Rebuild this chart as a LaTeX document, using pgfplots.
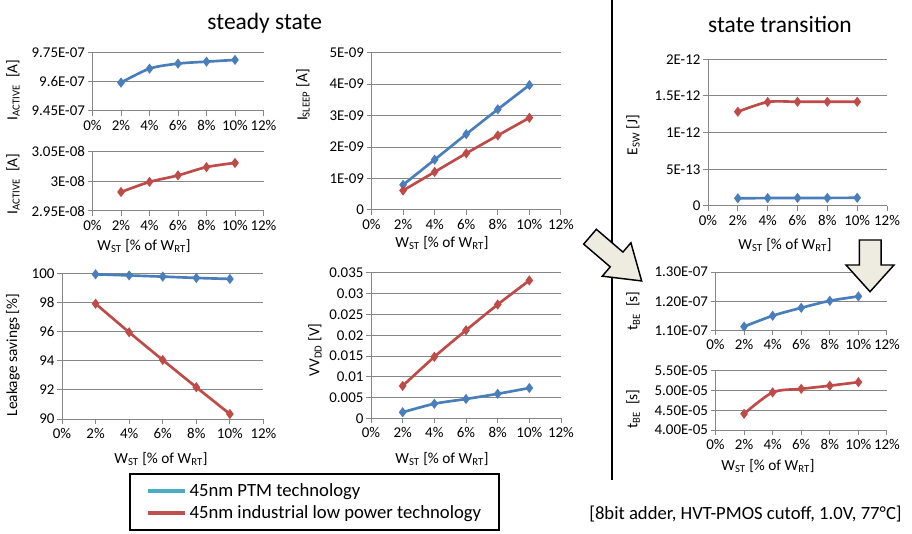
\documentclass[border=0pt]{standalone}
\usepackage{fontspec}
\setmainfont{Carlito}
\usepackage{pgfplots}
\pgfplotsset{compat=1.18}
\definecolor{ptm}{HTML}{4A7EBB}
\definecolor{ind}{HTML}{BE4B48}
\definecolor{legptm}{HTML}{4BACC6}
\definecolor{legind}{HTML}{C0504D}
\definecolor{axgray}{HTML}{868686}
\definecolor{arrowfill}{HTML}{EEECE1}
\newcommand\tickfont{\fontsize{11.2}{13}\selectfont}
\newcommand\labfont{\fontsize{11.5}{13}\selectfont}
\newcommand\wst{W\textsubscript{ST} [\% of W\textsubscript{RT}]}
\pgfplotsset{
  panel/.style={
    scale only axis, clip=false, anchor=south west,
    axis lines=left, axis line style={-, draw=axgray, line width=0.75pt},
    xmin=0, xmax=12, xtick={0,2,4,6,8,10,12},
    xticklabels={0\%,2\%,4\%,6\%,8\%,10\%,12\%},
    scaled y ticks=false, scaled x ticks=false,
    ymajorgrids=true, grid style={draw=axgray, line width=0.75pt},
    tick align=outside, major tick length=3.5pt,
    tick style={draw=axgray, line width=0.75pt},
    ticklabel style={font=\tickfont},
    yticklabel style={inner sep=2pt},
    xticklabel style={inner sep=3pt},
  },
  ptmline/.style={color=ptm, line width=2pt, smooth, mark=diamond*, mark size=2.2pt, mark options={solid}},
  indline/.style={color=ind, line width=2pt, smooth, mark=diamond*, mark size=2.2pt, mark options={solid}},
}
\begin{document}
\begin{tikzpicture}[x=0.75pt, y=-0.75pt]
\useasboundingbox (0,0) rectangle (912,534);

% P1: I_ACTIVE PTM
\begin{axis}[panel, at={(69.375pt,-83.25pt)}, width=128.25pt, height=43.7pt,
  ymin=9.45e-7, ymax=9.75e-7, ytick={9.45e-7,9.6e-7,9.75e-7},
  yticklabels={9.45E-07,9.6E-07,9.75E-07}]
\addplot[ptmline] coordinates {(2,9.596e-7) (4,9.668e-7) (6,9.694e-7) (8,9.704e-7) (10,9.713e-7)};
\end{axis}

% P2: I_ACTIVE industrial
\begin{axis}[panel, at={(69.375pt,-158.25pt)}, width=128.25pt, height=44.5pt,
  ymin=2.95e-8, ymax=3.05e-8, ytick={2.95e-8,3e-8,3.05e-8},
  yticklabels={2.95E-08,3E-08,3.05E-08}]
\addplot[indline] coordinates {(2,2.982e-8) (4,2.999e-8) (6,3.010e-8) (8,3.024e-8) (10,3.031e-8)};
\end{axis}

% P3: I_SLEEP
\begin{axis}[panel, at={(278.625pt,-157.5pt)}, width=142.1pt, height=118pt,
  ymin=0, ymax=5e-9, ytick={0,1e-9,2e-9,3e-9,4e-9,5e-9},
  yticklabels={0,1E-09,2E-09,3E-09,4E-09,5E-09}]
\addplot[ptmline] coordinates {(2,0.80e-9) (4,1.60e-9) (6,2.41e-9) (8,3.20e-9) (10,3.97e-9)};
\addplot[indline] coordinates {(2,0.62e-9) (4,1.21e-9) (6,1.80e-9) (8,2.37e-9) (10,2.93e-9)};
\end{axis}

% P4: Leakage savings
\begin{axis}[panel, at={(46.5pt,-314.25pt)}, width=151.1pt, height=109.3pt,
  ymin=90, ymax=100, ytick={90,92,94,96,98,100},
  yticklabels={90,92,94,96,98,100},
  legend style={at={(0.334,-0.3727)}, anchor=north west, draw=black, line width=1.5pt,
    inner xsep=11.5pt, inner ysep=5pt, font=\fontsize{14}{16}\selectfont,
    cells={anchor=west}, row sep=1pt,
    /tikz/every even column/.append style={column sep=6.5pt}},
  legend image code/.code={\draw[#1] (0pt,0pt) -- (28pt,0pt);}]
\addplot[ptmline, forget plot] coordinates {(2,99.93) (4,99.85) (6,99.77) (8,99.68) (10,99.61)};
\addplot[indline, forget plot] coordinates {(2,97.91) (4,95.95) (6,94.05) (8,92.18) (10,90.34)};
\addlegendimage{color=legptm, line width=3pt}
\addlegendentry{45nm PTM technology}
\addlegendimage{color=legind, line width=3pt}
\addlegendentry{45nm industrial low power technology}
\end{axis}

% P5: VVDD
\begin{axis}[panel, at={(278.25pt,-313.725pt)}, width=142.5pt, height=109pt,
  ymin=0, ymax=0.035, ytick={0,0.005,0.01,0.015,0.02,0.025,0.03,0.035},
  yticklabels={0,0.005,0.01,0.015,0.02,0.025,0.03,0.035}]
\addplot[ptmline] coordinates {(2,0.00145) (4,0.0035) (6,0.00465) (8,0.0059) (10,0.0073)};
\addplot[indline] coordinates {(2,0.0078) (4,0.0148) (6,0.0212) (8,0.0274) (10,0.0332)};
\end{axis}

% P6: E_SW
\begin{axis}[panel, at={(531pt,-154.5pt)}, width=134.25pt, height=110pt,
  ymin=0, ymax=2e-12, ytick={0,0.5e-12,1e-12,1.5e-12,2e-12},
  yticklabels={0,5E-13,1E-12,1.5E-12,2E-12}]
\addplot[ptmline] coordinates {(2,0.105e-12) (4,0.108e-12) (6,0.110e-12) (8,0.110e-12) (10,0.112e-12)};
\addplot[indline] coordinates {(2,1.285e-12) (4,1.418e-12) (6,1.421e-12) (8,1.421e-12) (10,1.421e-12)};
\end{axis}

% P7: t_BE PTM
\begin{axis}[panel, at={(536.625pt,-248.025pt)}, width=128.6pt, height=44pt,
  ymin=1.1e-7, ymax=1.3e-7, ytick={1.1e-7,1.2e-7,1.3e-7},
  yticklabels={1.10E-07,1.20E-07,1.30E-07}]
\addplot[ptmline] coordinates {(2,1.114e-7) (4,1.151e-7) (6,1.178e-7) (8,1.202e-7) (10,1.217e-7)};
\end{axis}

% P8: t_BE industrial
\begin{axis}[panel, at={(536.625pt,-322.5pt)}, width=128.6pt, height=44.5pt,
  ymin=4e-5, ymax=5.5e-5, ytick={4e-5,4.5e-5,5e-5,5.5e-5},
  yticklabels={4.00E-05,4.50E-05,5.00E-05,5.50E-05}]
\addplot[indline] coordinates {(2,4.41e-5) (4,4.95e-5) (6,5.04e-5) (8,5.12e-5) (10,5.21e-5)};
\end{axis}

% titles
\node[font=\fontsize{17.6}{20}\selectfont, anchor=base] at (264.7,30) {steady state};
\node[font=\fontsize{17.6}{20}\selectfont, anchor=base] at (780,33) {state transition};

% axis labels
\node[font=\labfont] at (144,246) {\wst};
\node[font=\labfont] at (442,243) {\wst};
\node[font=\labfont] at (161,459) {\wst};
\node[font=\labfont] at (442,459) {\wst};
\node[font=\labfont] at (785,245) {\wst};
\node[font=\labfont] at (768,466) {\wst};

\node[font=\labfont, rotate=90] at (13,90) {I\textsubscript{ACTIVE}\ \ [A]};
\node[font=\labfont, rotate=90] at (13,184) {I\textsubscript{ACTIVE}\ \ [A]};
\node[font=\labfont, rotate=90] at (303,95) {I\textsubscript{SLEEP} [A]};
\node[font=\labfont, rotate=90] at (13,355) {Leakage savings [\%]};
\node[font=\labfont, rotate=90] at (315,350) {VV\textsubscript{DD} [V]};
\node[font=\labfont, rotate=90] at (633,135) {E\textsubscript{SW} [J]};
\node[font=\labfont, rotate=90] at (633,311) {t\textsubscript{BE}\ \ [s]};
\node[font=\labfont, rotate=90] at (633,409) {t\textsubscript{BE}\ \ [s]};

% separator
\draw[black, line width=1.5pt] (612,0) -- (612,480);

% note
\node[font=\fontsize{14}{16}\selectfont] at (745.5,514) {[8bit adder, HVT-PMOS cutoff, 1.0V, 77°C]};

% arrows
\begin{scope}[shift={(590,236.7)}, rotate=-40.6]
\draw[fill=arrowfill, draw=black, line width=1.1pt, line join=miter]
  (0,-9.75) -- (35,-9.75) -- (35,-22) -- (68,0) -- (35,22) -- (35,9.75) -- (0,9.75) -- cycle;
\end{scope}
\draw[fill=arrowfill, draw=black, line width=1.1pt, line join=miter]
  (859.3,240) -- (881,240) -- (881,265) -- (894,265) -- (870,291.7) -- (846,265) -- (859.3,265) -- cycle;
\end{tikzpicture}
\end{document}
